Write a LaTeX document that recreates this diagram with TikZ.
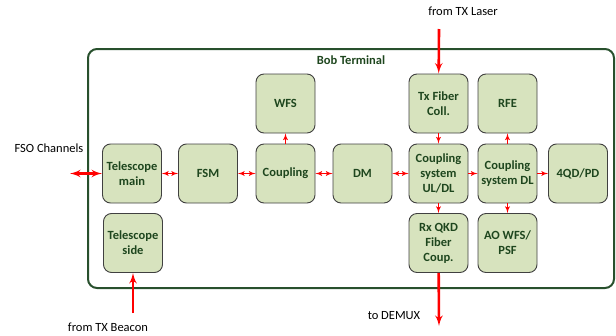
\documentclass[tikz,border=0pt]{standalone}
\usepackage{fontspec}
\setmainfont{Carlito}
\usetikzlibrary{arrows}
\definecolor{boxfill}{RGB}{215,227,190}
\definecolor{boxtext}{RGB}{30,70,30}
\definecolor{frame}{RGB}{40,80,45}
\tikzset{block/.style = {shape=rectangle,rounded corners=8pt,draw=black!75,line width=0.9pt,fill=boxfill,minimum width=59pt,minimum height=59pt,align=center,text=boxtext,font=\fontsize{12.5}{15}\selectfont\bfseries}}
\tikzset{link/.style = {->,> = latex',red,line width=1.3pt}}
\tikzset{bilink/.style = {<->,> = latex',red,line width=1.3pt}}
\tikzset{feed/.style = {->,> = latex',red,line width=2.6pt}}
\tikzset{label/.style = {font=\fontsize{12.5}{15}\selectfont}}

\begin{document}
\begin{tikzpicture}[x=1pt,y=-1pt]
\useasboundingbox (0,0) rectangle (616,335);

\draw[frame,line width=2pt,rounded corners=9pt] (88,49) rectangle (614,288);
\node[label,font=\fontsize{12.5}{15}\selectfont\bfseries,text=boxtext] (bob) at (351,60) {Bob Terminal};

\node[block] (telmain) at (132,173.5) {Telescope\\main};
\node[block] (fsm) at (208,173.5) {FSM};
\node[block] (coupling) at (285.5,173.5) {Coupling};
\node[block] (wfs) at (285.5,103.5) {WFS};
\node[block] (dm) at (362.5,173.5) {DM};
\node[block] (culdl) at (438.5,173.5) {Coupling\\system\\UL/DL};
\node[block] (txfib) at (438.5,103.5) {Tx Fiber\\Coll.};
\node[block] (rxqkd) at (438.5,243) {Rx QKD\\Fiber\\Coup.};
\node[block] (csdl) at (507.5,173.5) {Coupling\\system DL};
\node[block] (rfe) at (507.5,103.5) {RFE};
\node[block] (aowfs) at (507.5,243) {AO WFS/\\PSF};
\node[block] (qdpd) at (578,173.5) {4QD/PD};
\node[block] (telside) at (133,243) {Telescope\\side};

\node[label] (fso) at (49,148) {FSO Channels};
\node[label] (laser) at (463,11) {from TX Laser};
\node[label] (demux) at (394,316) {to DEMUX};
\node[label] (beacon) at (108,327) {from TX Beacon};

\coordinate (fsoend) at (70,173.5);
\coordinate (laserstart) at (439,29);
\coordinate (demuxend) at (439,326);
\coordinate (beaconstart) at (133,313);

\draw[bilink] (telmain) -- (fsm);
\draw[bilink] (fsm) -- (coupling);
\draw[bilink] (coupling) -- (dm);
\draw[bilink] (dm) -- (culdl);
\draw[link] (culdl) -- (csdl);
\draw[link] (csdl) -- (qdpd);
\draw[link] (coupling) -- (wfs);
\draw[link] (txfib) -- (culdl);
\draw[link] (culdl) -- (rxqkd);
\draw[link] (csdl) -- (rfe);
\draw[link] (csdl) -- (aowfs);

\draw[feed,<->] (fsoend) -- (telmain);
\draw[feed] (laserstart) -- (txfib);
\draw[feed] (rxqkd) -- (demuxend);
\draw[feed] (beaconstart) -- (telside);

\end{tikzpicture}
\end{document}
